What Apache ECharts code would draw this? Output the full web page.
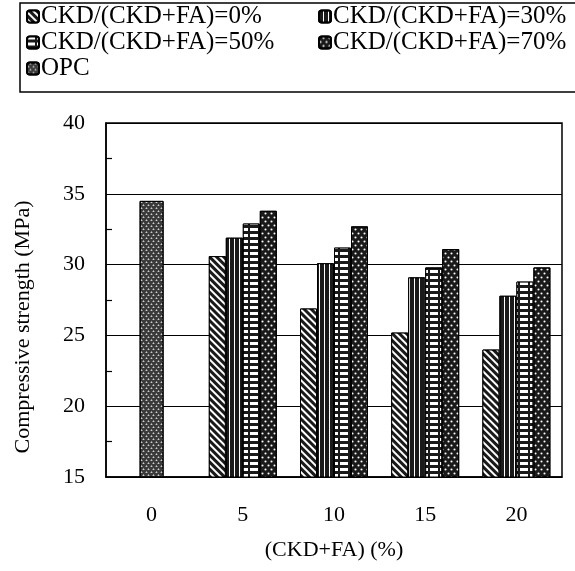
<!DOCTYPE html>
<html>
<head>
<meta charset="utf-8">
<script src="https://cdn.jsdelivr.net/npm/echarts@6/dist/echarts.min.js"></script>
<style>
  html, body { margin: 0; padding: 0; background: #fff; }
  #chart { width: 575px; height: 571px; }
</style>
</head>
<body>
<div id="chart"></div>
<script>
var categories = ['0', '5', '10', '15', '20'];
var ckd0 = [null, 30.6, 26.9, 25.2, 24.0];
var ckd30 = [null, 31.9, 30.1, 29.1, 27.8];
var ckd50 = [null, 32.9, 31.2, 29.8, 28.8];
var ckd70 = [null, 33.8, 32.7, 31.1, 29.8];
var opc = [34.5, null, null, null, null];
var yTicks = [15, 20, 25, 30, 35, 40];

var font = '"Liberation Serif", "DejaVu Serif", serif';
var chart = echarts.init(document.getElementById('chart'));

function barStyle(decal) {
    return {
        color: '#1a1a1a',
        borderColor: '#000',
        borderWidth: 1,
        decal: decal
    };
}

var legendText = { fontFamily: font, fontSize: 25, color: '#000', padding: [0, 0, 0, -3] };

var option = {
    animation: false,
    textStyle: { fontFamily: font, color: '#000' },
    graphic: [{
        type: 'rect',
        shape: { x: 20, y: 3, width: 570, height: 89 },
        style: { fill: 'none', stroke: '#000', lineWidth: 1.5 }
    }],
    legend: [{
        data: ['CKD/(CKD+FA)=0%', 'CKD/(CKD+FA)=50%', 'OPC'],
        orient: 'vertical',
        left: 26,
        top: 4,
        padding: 0,
        itemGap: 1,
        itemWidth: 12,
        itemHeight: 12,
        textStyle: legendText
    }, {
        data: ['CKD/(CKD+FA)=30%', 'CKD/(CKD+FA)=70%'],
        orient: 'vertical',
        left: 318,
        top: 4,
        padding: 0,
        itemGap: 1,
        itemWidth: 12,
        itemHeight: 12,
        textStyle: legendText
    }],
    grid: {
        left: 106, right: 13, top: 123, bottom: 94,
        show: true, borderColor: '#000', borderWidth: 1.5
    },
    xAxis: [{
        type: 'category',
        data: categories,
        axisLine: { lineStyle: { color: '#000', width: 1.5 } },
        axisTick: { show: false },
        axisLabel: { fontFamily: font, fontSize: 22, color: '#000', margin: 27 },
        name: '(CKD+FA) (%)',
        nameLocation: 'middle',
        nameGap: 62,
        nameTextStyle: { fontFamily: font, fontSize: 22, color: '#000' }
    }, {
        type: 'category',
        data: categories,
        position: 'bottom',
        show: false
    }],
    yAxis: {
        type: 'value',
        min: yTicks[0],
        max: yTicks[yTicks.length - 1],
        interval: 5,
        axisLine: { show: true, lineStyle: { color: '#000', width: 1.5 } },
        axisTick: { show: true, inside: true, length: 5, lineStyle: { color: '#000' } },
        minorTick: { show: true, splitNumber: 2, length: 6, lineStyle: { color: '#000', width: 1.2 } },
        splitLine: { show: true, lineStyle: { color: '#000', width: 1.2 } },
        axisLabel: { fontFamily: font, fontSize: 22, color: '#000', margin: 21 },
        name: 'Compressive strength (MPa)',
        nameLocation: 'middle',
        nameGap: 72,
        nameTextStyle: { fontFamily: font, fontSize: 22, color: '#000', padding: [0, 54, 0, 0] }
    },
    series: [{
        name: 'CKD/(CKD+FA)=0%',
        type: 'bar',
        xAxisIndex: 0,
        data: ckd0,
        barWidth: 17,
        barGap: '0%',
        itemStyle: barStyle({
            color: '#fff', symbol: 'rect', dashArrayX: [1, 0], dashArrayY: [2, 3],
            rotation: Math.PI / 4
        })
    }, {
        name: 'CKD/(CKD+FA)=30%',
        type: 'bar',
        xAxisIndex: 0,
        data: ckd30,
        barWidth: 17,
        barGap: '0%',
        itemStyle: barStyle({
            color: '#fff', symbol: 'rect', dashArrayX: [1, 0], dashArrayY: [1, 4],
            rotation: Math.PI / 2
        })
    }, {
        name: 'CKD/(CKD+FA)=50%',
        type: 'bar',
        xAxisIndex: 0,
        data: ckd50,
        barWidth: 17,
        barGap: '0%',
        itemStyle: barStyle({
            color: '#fff', symbol: 'rect', dashArrayX: [[8, 2]], dashArrayY: [3, 3]
        })
    }, {
        name: 'CKD/(CKD+FA)=70%',
        type: 'bar',
        xAxisIndex: 0,
        data: ckd70,
        barWidth: 17,
        barGap: '0%',
        itemStyle: barStyle({
            color: '#fff', symbol: 'circle', symbolSize: 0.7,
            dashArrayX: [[3, 3], [0, 3, 3, 0]], dashArrayY: [3, 1]
        })
    }, {
        name: 'OPC',
        type: 'bar',
        xAxisIndex: 1,
        data: opc,
        barWidth: 24,
        itemStyle: {
            color: '#3a3a3a',
            borderColor: '#000',
            borderWidth: 1,
            decal: {
                color: '#fff', symbol: 'triangle', symbolSize: 0.8,
                dashArrayX: [[3, 2], [0, 2, 3, 0]], dashArrayY: [2, 1]
            }
        }
    }]
};

chart.setOption(option);
</script>
</body>
</html>
